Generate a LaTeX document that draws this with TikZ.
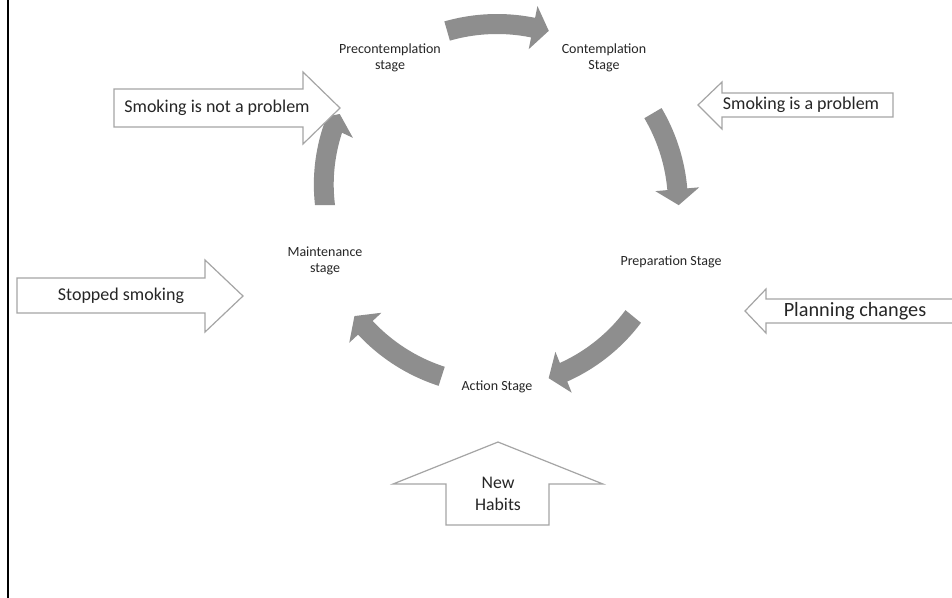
\documentclass[tikz,border=0pt]{standalone}
\usepackage{fontspec}
\setmainfont{Carlito}
\definecolor{arrowgray}{RGB}{142,142,142}
\definecolor{outlinegray}{RGB}{165,165,165}
\definecolor{txt}{RGB}{38,38,38}
% block-arc arrow around the cycle centre (497,205): tail angle, head angle, tail radius, head radius
\newcommand{\cyclearrow}[4]{%
  \fill[arrowgray]
    plot[domain=#1:#2, samples=40, variable=\t]
      ({497+(#3+(#4-#3)*(\t-(#1))/((#2)-(#1))+10)*cos(\t)},
       {205+(#3+(#4-#3)*(\t-(#1))/((#2)-(#1))+10)*sin(\t)})
    -- ({497+(#4+22)*cos(#2)}, {205+(#4+22)*sin(#2)})
    -- ({497+#4*cos(#2)-16*sin(#2)}, {205+#4*sin(#2)+16*cos(#2)})
    -- ({497+(#4-22)*cos(#2)}, {205+(#4-22)*sin(#2)})
    -- plot[domain=#2:#1, samples=40, variable=\t]
      ({497+(#3+(#4-#3)*(\t-(#1))/((#2)-(#1))-10)*cos(\t)},
       {205+(#3+(#4-#3)*(\t-(#1))/((#2)-(#1))-10)*sin(\t)})
    -- cycle;}
\begin{document}
\begin{tikzpicture}[x=0.75pt, y=-0.75pt,
  stagelbl/.style={align=center, font=\fontsize{10.5}{12}\selectfont, text=txt, inner sep=0pt},
  biglbl/.style={align=center, font=\fontsize{13.5}{16.5}\selectfont, text=txt, inner sep=0pt},
  hollow/.style={draw=outlinegray, fill=white, line width=0.9pt, line join=miter}]
\useasboundingbox (0,0) rectangle (952,597);
\fill[white] (0,0) rectangle (952,597);

% left border
\coordinate (bt) at (8,-2);
\coordinate (bb) at (8,599);
\draw[line width=2.2pt, black] (bt) -- (bb);

% stage labels
\node[stagelbl] (pre)  at (390,57.5) {Precontemplation\\stage};
\node[stagelbl] (con)  at (604,57.5) {Contemplation\\Stage};
\node[stagelbl] (prep) at (671,262)  {Preparation Stage};
\node[stagelbl] (act)  at (497,387)  {Action Stage};
\node[stagelbl] (main) at (325,261)  {Maintenance\\stage};

% cycle arrows
\cyclearrow{-106}{-78.5}{181}{181}
\cyclearrow{-30.5}{-5}{181}{181}
\cyclearrow{39.3}{68.3}{176}{180}
\cyclearrow{107.9}{137}{180}{180}
\cyclearrow{180}{205}{172}{181}

% hollow arrows
\draw[hollow] (114,89) -- (303,89) -- (303,72) -- (340,108) -- (303,144) -- (303,127) -- (114,127) -- cycle;
\node[biglbl] (notprob) at (217,108) {Smoking is not a problem};

\draw[hollow] (17,278) -- (205,278) -- (205,260) -- (243,296) -- (205,332) -- (205,313) -- (17,313) -- cycle;
\node[biglbl] (stopped) at (121,296) {Stopped smoking};

\draw[hollow] (893,93) -- (722,93) -- (722,82) -- (698,105) -- (722,129) -- (722,117) -- (893,117) -- cycle;
\node[biglbl] (isprob) at (801,105) {Smoking is a problem};

\draw[hollow] (960,299) -- (766,299) -- (766,289) -- (745,311) -- (766,333) -- (766,323) -- (960,323);
\node[biglbl, font=\fontsize{15.2}{18}\selectfont] (plan) at (855,311) {Planning changes};

\draw[hollow] (446,525) -- (446,484) -- (393,484) -- (498,442) -- (603,484) -- (549,484) -- (549,525) -- cycle;
\node[biglbl, font=\fontsize{13.3}{16.5}\selectfont] (habits) at (498,494) {New\\Habits};
\end{tikzpicture}
\end{document}
